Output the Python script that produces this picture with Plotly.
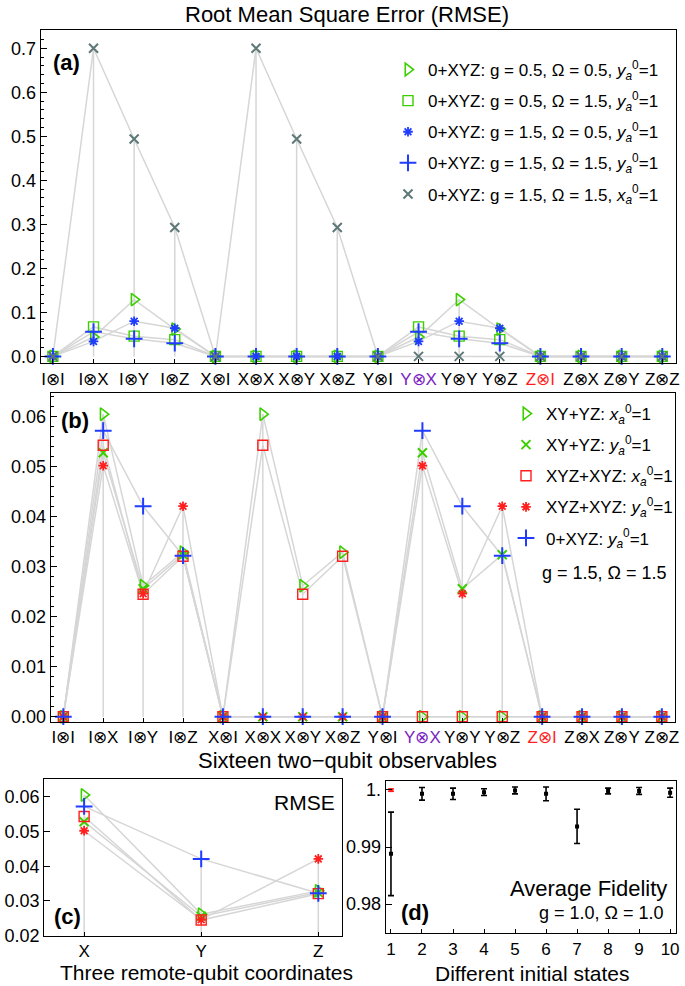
import plotly.graph_objects as go

W, H = 685, 986
FONT = "Liberation Sans, Arial, Helvetica, sans-serif"

# ---------------- data ----------------
observables = ["I⊗I", "I⊗X", "I⊗Y", "I⊗Z", "X⊗I", "X⊗X", "X⊗Y", "X⊗Z",
               "Y⊗I", "Y⊗X", "Y⊗Y", "Y⊗Z", "Z⊗I", "Z⊗X", "Z⊗Y", "Z⊗Z"]
observable_colors = {"Y⊗X": "#7a22c2", "Z⊗I": "#ff1f1f"}

# panel (a)
a_g05_o05_y = [0, 0.044, 0.129, 0.062, 0, 0, 0, 0, 0, 0.044, 0.129, 0.062, 0, 0, 0, 0]
a_g05_o15_y = [0, 0.067, 0.046, 0.038, 0, 0, 0, 0, 0, 0.067, 0.046, 0.038, 0, 0, 0, 0]
a_g15_o05_y = [0, 0.034, 0.080, 0.064, 0, 0, 0, 0, 0, 0.034, 0.080, 0.064, 0, 0, 0, 0]
a_g15_o15_y = [0, 0.056, 0.040, 0.030, 0, 0, 0, 0, 0, 0.056, 0.040, 0.030, 0, 0, 0, 0]
a_g15_o15_x = [0, 0.700, 0.494, 0.293, 0, 0.700, 0.494, 0.293, 0, 0, 0, 0, 0, 0, 0, 0]

# panel (b)
b_xyyz_x = [0, 0.0605, 0.0262, 0.0329, 0, 0.0605, 0.0262, 0.0329, 0, 0, 0, 0, 0, 0, 0, 0]
b_xyyz_y = [0, 0.0528, 0.0256, 0.0324, 0, 0, 0, 0, 0, 0.0528, 0.0256, 0.0324, 0, 0, 0, 0]
b_xyz_x = [0, 0.0543, 0.0245, 0.0321, 0, 0.0543, 0.0245, 0.0321, 0, 0, 0, 0, 0, 0, 0, 0]
b_xyz_y = [0, 0.0502, 0.0246, 0.0421, 0, 0, 0, 0, 0, 0.0502, 0.0246, 0.0421, 0, 0, 0, 0]
b_0xyz_y = [0, 0.0572, 0.0421, 0.0322, 0, 0, 0, 0, 0, 0.0572, 0.0421, 0.0322, 0, 0, 0, 0]

# panel (c)
coords = ["X", "Y", "Z"]
c_xyyz_x = [0.0605, 0.0262, 0.0329]
c_xyyz_y = [0.0528, 0.0256, 0.0324]
c_xyz_x = [0.0543, 0.0245, 0.0321]
c_xyz_y = [0.0502, 0.0246, 0.0421]
c_0xyz_y = [0.0572, 0.0421, 0.0322]

# panel (d)
states = [1, 2, 3, 4, 5, 6, 7, 8, 9, 10]
fidelity = [0.9888, 0.9993, 0.9993, 0.9996, 0.9999, 0.9993, 0.9936, 0.9998, 0.9998, 0.9995]
fidelity_err = [0.0073, 0.0011, 0.0010, 0.0006, 0.0006, 0.0012, 0.0030, 0.0005, 0.0006, 0.0008]
red_state = [1]
red_fidelity = [0.99995]
red_err = [0.0002]

# ---------------- styles ----------------
GREEN = "#3ccf00"
BLUE = "#1f3cff"
RED = "#ff1f1f"
SLATE = "#5e7878"
LGRAY = "#d6d6d6"

ya0 = "<i>y</i><sub><i>a</i></sub><sup>0</sup>=1"
xa0 = "<i>x</i><sub><i>a</i></sub><sup>0</sup>=1"

sym = {
    "tri": dict(symbol="triangle-right-open", size=11, lw=1.6),
    "sq": dict(symbol="square-open", size=10, lw=1.4),
    "star": dict(symbol="asterisk-open", size=8, lw=1.8),
    "plus": dict(symbol="cross-thin-open", size=12, lw=2.0),
    "x": dict(symbol="x-thin-open", size=9, lw=2.0),
}

a_series = [
    ("0+XYZ: g = 0.5, Ω = 0.5, " + ya0, a_g05_o05_y, GREEN, "tri"),
    ("0+XYZ: g = 0.5, Ω = 1.5, " + ya0, a_g05_o15_y, GREEN, "sq"),
    ("0+XYZ: g = 1.5, Ω = 0.5, " + ya0, a_g15_o05_y, BLUE, "star"),
    ("0+XYZ: g = 1.5, Ω = 1.5, " + ya0, a_g15_o15_y, BLUE, "plus"),
    ("0+XYZ: g = 1.5, Ω = 1.5, " + xa0, a_g15_o15_x, SLATE, "x"),
]
b_series = [
    ("XY+YZ: " + xa0, b_xyyz_x, c_xyyz_x, GREEN, "tri"),
    ("XY+YZ: " + ya0, b_xyyz_y, c_xyyz_y, GREEN, "x"),
    ("XYZ+XYZ: " + xa0, b_xyz_x, c_xyz_x, RED, "sq"),
    ("XYZ+XYZ: " + ya0, b_xyz_y, c_xyz_y, RED, "star"),
    ("0+XYZ: " + ya0, b_0xyz_y, c_0xyz_y, BLUE, "plus"),
]

fig = go.Figure()


def drop_lines(xs, series_list, xa, ya):
    lx, ly = [], []
    for i, x in enumerate(xs):
        top = max(s[i] for s in series_list)
        if top > 0:
            lx += [x, x, None]
            ly += [0, top, None]
    fig.add_trace(go.Scatter(x=lx, y=ly, mode="lines", line=dict(color=LGRAY, width=1.5),
                             xaxis=xa, yaxis=ya, showlegend=False, hoverinfo="skip"))


def add_panel(xs, series, xa, ya, legend=None):
    drop_lines(xs, [s[1] for s in series], xa, ya)
    for s in series:
        fig.add_trace(go.Scatter(x=xs, y=s[1], mode="lines", line=dict(color=LGRAY, width=1.5),
                                 xaxis=xa, yaxis=ya, showlegend=False, hoverinfo="skip"))
    for k, s in enumerate(series):
        name, vals, color, sk = s
        st = sym[sk]
        fig.add_trace(go.Scatter(
            x=xs, y=vals, mode="markers", name=name,
            marker=dict(symbol=st["symbol"], size=st["size"], color=color,
                        line=dict(color=color, width=st["lw"])),
            xaxis=xa, yaxis=ya, cliponaxis=False,
            showlegend=legend is not None, legend=legend or "legend",
            legendgroup=f"{xa}{k}"))


idx16 = list(range(16))
add_panel(idx16, a_series, "x", "y", legend="legend")
add_panel(idx16, [(n, b, col, sk) for n, b, c, col, sk in b_series], "x2", "y2", legend="legend2")
add_panel([0, 1, 2], [(n, c, col, sk) for n, b, c, col, sk in b_series], "x3", "y3", legend=None)

# panel (d)
fig.add_trace(go.Scatter(
    x=states, y=fidelity, mode="markers",
    marker=dict(color="black", size=4, symbol="square"),
    error_y=dict(type="data", array=fidelity_err, color="black", thickness=1.6, width=3),
    xaxis="x4", yaxis="y4", showlegend=False))
fig.add_trace(go.Scatter(
    x=red_state, y=red_fidelity, mode="markers",
    marker=dict(color=RED, size=4, symbol="square"),
    error_y=dict(type="data", array=red_err, color=RED, thickness=1.6, width=3),
    xaxis="x4", yaxis="y4", showlegend=False, cliponaxis=False))

# ---------------- axes ----------------
def px_x(p):
    return p / W


def px_y(p):
    return 1 - p / H


tick_font = dict(family=FONT, size=18, color="black")
xtick_font = dict(family=FONT, size=17, color="black")
frame = dict(showline=True, linecolor="black", linewidth=1.3, mirror=True,
             showgrid=False, zeroline=False, ticks="inside", tickcolor="black",
             tickwidth=1, automargin=False)
yframe = dict(ticklen=6, tickfont=tick_font, **frame)
xframe = dict(ticklen=4, tickfont=xtick_font, tickangle=0, **frame)

obs_text = [f'<span style="color:{observable_colors[o]}">{o}</span>' if o in observable_colors else o
            for o in observables]

fig.update_layout(
    xaxis=dict(domain=[px_x(40.7), px_x(675.7)], range=[-0.3, 15.33], tickvals=idx16,
               ticktext=obs_text, anchor="y", **xframe),
    yaxis=dict(domain=[px_y(363), px_y(30)], range=[-0.015, 0.7415], tickvals=[i / 10 for i in range(8)],
               ticktext=[f"{i / 10:.1f}" for i in range(8)], anchor="x",
               minor=dict(ticks="inside", ticklen=3, dtick=0.02, tick0=0, tickcolor="black"), **yframe),
    xaxis2=dict(domain=[px_x(50.7), px_x(675)], range=[-0.316, 15.33], tickvals=idx16,
                ticktext=obs_text, anchor="y2", **xframe),
    yaxis2=dict(domain=[px_y(721.7), px_y(392.7)], range=[-0.001, 0.0648],
                tickvals=[i / 100 for i in range(7)], ticktext=[f"{i / 100:.2f}" for i in range(7)], anchor="x2",
                minor=dict(ticks="inside", ticklen=3, dtick=0.002, tick0=0, tickcolor="black"), **yframe),
    xaxis3=dict(domain=[px_x(44.3), px_x(342.3)], range=[-0.34, 2.205], tickvals=[0, 1, 2],
                ticktext=coords, anchor="y3", **xframe),
    yaxis3=dict(domain=[px_y(935.7), px_y(779.3)], range=[0.02, 0.065],
                tickvals=[0.02, 0.03, 0.04, 0.05, 0.06], ticktext=["0.02", "0.03", "0.04", "0.05", "0.06"],
                anchor="x3", **yframe),
    xaxis4=dict(domain=[px_x(385.7), px_x(676)], range=[0.83, 10.19], tickvals=states,
                ticktext=[str(s) for s in states], anchor="y4", **xframe),
    yaxis4=dict(domain=[px_y(933.3), px_y(780.7)], range=[0.9749, 1.0016],
                tickvals=[0.98, 0.99, 1.0], ticktext=["0.98", "0.99", "1."], anchor="x4", **yframe),
)

legend_common = dict(font=dict(family=FONT, size=17, color="black"), bgcolor="rgba(0,0,0,0)",
                     borderwidth=0, xanchor="left", yanchor="top", itemwidth=30)
fig.update_layout(
    legend=dict(x=px_x(388), y=px_y(52), tracegroupgap=6, **legend_common),
    legend2=dict(x=px_x(506), y=px_y(396), tracegroupgap=6, **legend_common),
)

ann = []


def text(t, x, y, size, xanchor="center", bold=False, color="black"):
    ann.append(dict(text=f"<b>{t}</b>" if bold else t, x=px_x(x), y=px_y(y), xref="paper", yref="paper",
                    showarrow=False, xanchor=xanchor, yanchor="middle",
                    font=dict(family=FONT, size=size, color=color)))


text("Root Mean Square Error (RMSE)", 347, 15, 22)
text("(a)", 66, 62, 22, bold=True)
text("(b)", 75, 421, 22, bold=True)
text("g = 1.5, Ω = 1.5", 540, 573, 18, xanchor="left")
text("Sixteen two−qubit observables", 347, 760, 22)
text("(c)", 67, 916, 22, bold=True)
text("RMSE", 337, 802, 21, xanchor="right")
text("Three remote-qubit coordinates", 206, 972, 21)
text("(d)", 415, 912, 22, bold=True)
text("Average Fidelity", 669, 888, 22, xanchor="right")
text("g = 1.0, Ω = 1.0", 666, 913, 18, xanchor="right")
text("Different initial states", 532, 973, 21)

fig.update_layout(annotations=ann, width=W, height=H, margin=dict(l=0, r=0, t=0, b=0),
                  paper_bgcolor="white", plot_bgcolor="white", font=dict(family=FONT, color="black"))

fig.write_html("out.html", config={"displayModeBar": False},
               post_script="document.body.style.margin='0';document.body.style.overflow='hidden';")
